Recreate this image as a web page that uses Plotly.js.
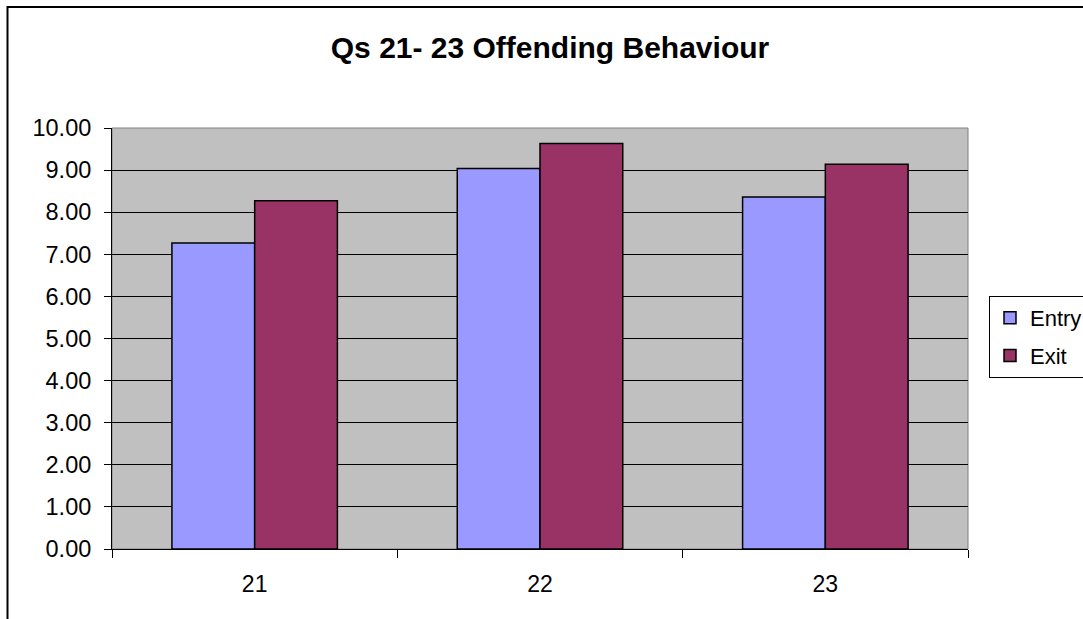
<!DOCTYPE html>
<html>
<head>
<meta charset="utf-8">
<script src="https://cdn.plot.ly/plotly-3.0.1.min.js"></script>
<style>html,body{margin:0;padding:0;background:#fff;}#chart{width:1083px;height:619px;}</style>
</head>
<body>
<div id="chart"></div>
<script>
var categories = ["21", "22", "23"];
var entryValues = [7.27, 9.04, 8.36];
var exitValues = [8.27, 9.63, 9.14];
var yTickValues = [0, 1, 2, 3, 4, 5, 6, 7, 8, 9, 10];
var titleText = "Qs 21- 23 Offending Behaviour";

var FONT = "Liberation Sans, Arial, sans-serif";

var traces = [
  {
    type: "bar", name: "Entry", x: categories, y: entryValues, legendgroup: "a",
    marker: {color: "#9999FF", line: {color: "#000000", width: 1.5}}
  },
  {
    type: "bar", name: "Exit", x: categories, y: exitValues, legendgroup: "b",
    marker: {color: "#993366", line: {color: "#000000", width: 1.5}}
  }
];

var layout = {
  width: 1083, height: 619,
  margin: {l: 112, r: 115, t: 128, b: 70},
  paper_bgcolor: "#FFFFFF",
  plot_bgcolor: "#C0C0C0",
  font: {family: FONT, color: "#000000", size: 23},
  title: {
    text: "<b>" + titleText + "</b>",
    font: {family: FONT, size: 30, color: "#000000"},
    xref: "container", x: 550 / 1083, xanchor: "center",
    yref: "container", y: 1 - 47 / 619, yanchor: "middle"
  },
  barmode: "group",
  bargap: 0.42,
  bargroupgap: 0,
  xaxis: {
    type: "category",
    showline: true, linecolor: "#000000", linewidth: 1,
    ticks: "outside", tickson: "boundaries", ticklen: 8, tickcolor: "#000000",
    tickfont: {family: FONT, size: 23},
    ticklabelstandoff: 14,
    showgrid: false, zeroline: false, mirror: false
  },
  yaxis: {
    range: [0, 10], tickvals: yTickValues, tickformat: ".2f",
    showline: true, linecolor: "#000000", linewidth: 1,
    ticks: "outside", ticklen: 7, tickcolor: "#000000",
    tickfont: {family: FONT, size: 23.5},
    ticklabelstandoff: 8,
    showgrid: true, gridcolor: "#000000", gridwidth: 1,
    zeroline: false
  },
  legend: {
    xref: "container", x: 989 / 1083, xanchor: "left",
    yref: "container", y: 1 - 296 / 619, yanchor: "top",
    bgcolor: "#FFFFFF", bordercolor: "#000000", borderwidth: 1,
    font: {family: FONT, size: 22},
    traceorder: "grouped",
    tracegroupgap: 6, itemwidth: 30
  },
  shapes: [
    {type: "rect", xref: "paper", yref: "paper", x0: 0, x1: 1, y0: 0, y1: 1,
     line: {color: "#808080", width: 1}, fillcolor: "rgba(0,0,0,0)", layer: "below"},
    {type: "rect", xref: "paper", yref: "paper",
     x0: (7.5 - 112) / 856, x1: (1095 - 112) / 856,
     y0: (549 - 640) / 421, y1: (549 - 7) / 421,
     line: {color: "#000000", width: 2}, fillcolor: "rgba(0,0,0,0)", layer: "above"}
  ]
};

Plotly.newPlot("chart", traces, layout, {displayModeBar: false, staticPlot: true});
</script>
</body>
</html>
